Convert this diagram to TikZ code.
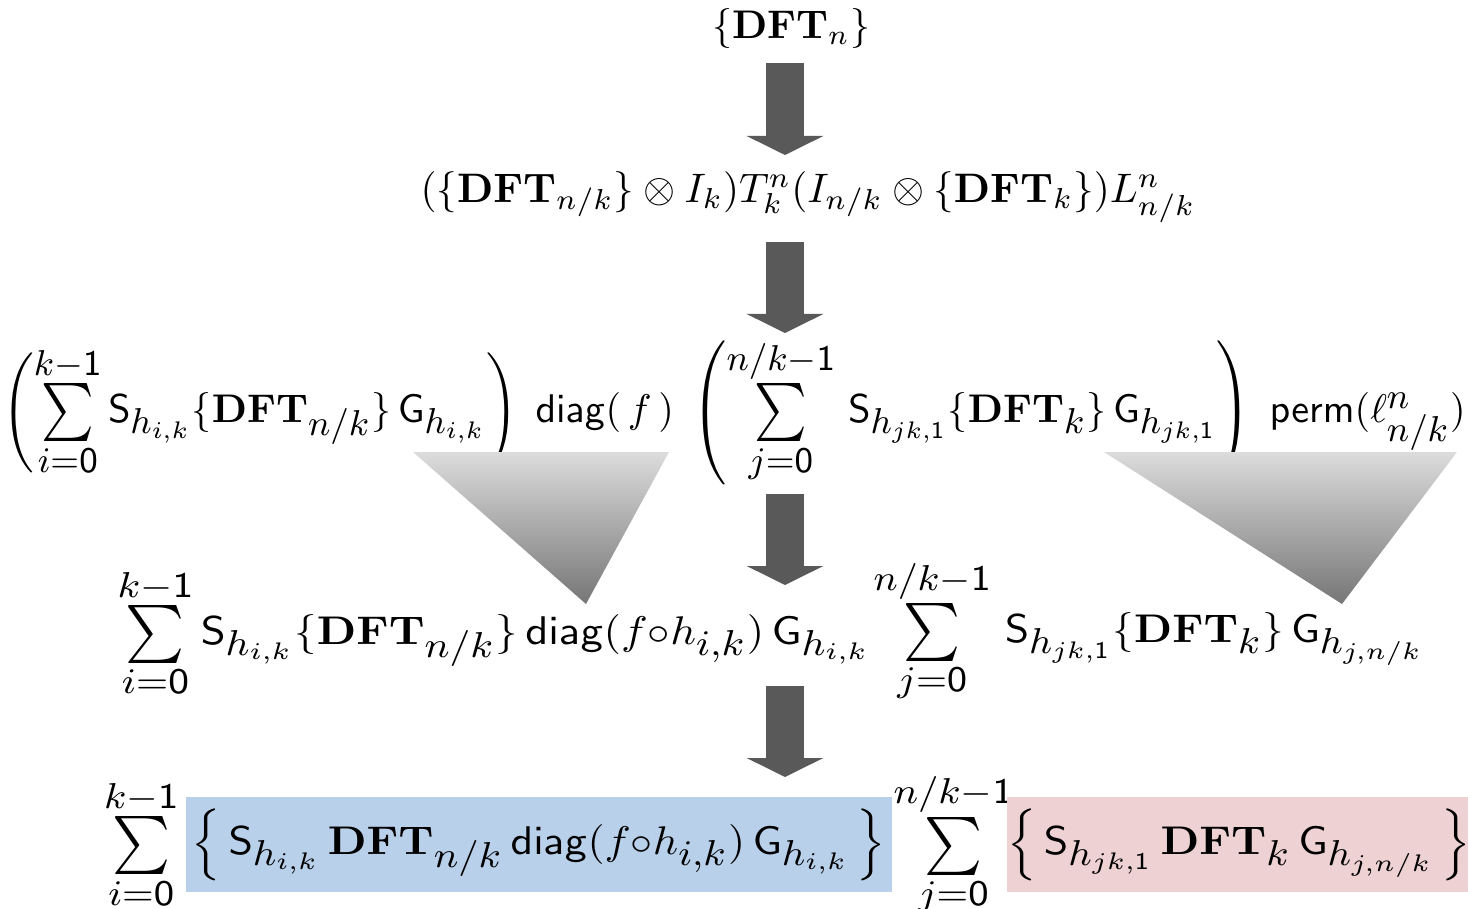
\documentclass[tikz,border=0pt]{standalone}
\usepackage{amsmath}
\usepackage{graphicx}
\usetikzlibrary{arrows.meta, positioning}
\definecolor{myBlue}{RGB}{185,208,234}
\definecolor{myPink}{RGB}{237,209,211}
\definecolor{myArrow}{RGB}{89,89,89}
\definecolor{wedgeTop}{RGB}{220,220,220}
\definecolor{wedgeBot}{RGB}{118,118,118}
\DeclareMathSizes{10.01}{10}{9}{6}
\newcommand{\bigfs}{\fontsize{10.01}{12}\selectfont}
\newcommand{\DFT}{\mathbf{DFT}}
\newcommand{\Sop}{\mathsf{S}}
\newcommand{\Gop}{\mathsf{G}}
\newcommand{\sz}{\mathsf{0}}
\newcommand{\so}{\mathsf{1}}
\newcommand{\bsum}{\mathop{\vcenter{\hbox{\scalebox{1.25}[1.45]{$\textstyle\sum$}}}}\limits}
\newcommand{\hwide}[2][1.1]{\scalebox{#1}[1]{#2}}

\begin{document}
\begin{tikzpicture}[
		x=0.25pt, y=-0.25pt,
		expr/.style={inner sep=0pt},
		sumexpr/.style={inner sep=0pt, font=\bigfs},
		hlbox/.style={inner sep=0pt, minimum height=23.75pt, font=\bigfs},
		bigarr/.style={myArrow, line width=9.5pt, -{Triangle[length=4.75pt, width=19pt]}},
		wedge/.style={top color=wedgeTop, bottom color=wedgeBot}
	]
	\useasboundingbox (0,0) rectangle (1468,909);
	\coordinate (ax) at (785,0);

	\node[expr] (dftn) at (791,29) {$\{\DFT_n\}$};
	\node[expr] (split) at (808,197) {\scalebox{1.03}{$(\{\DFT_{n/k}\}\otimes I_k)T^n_k(I_{n/k}\otimes\{\DFT_k\})L^n_{n/k}$}};
	\node[sumexpr] (sums) at (734,412) {$\left(\bsum_{i=\sz}^{k-\so} \Sop_{h_{i,k}}\{\DFT_{n/k}\}\,\Gop_{h_{i,k}}\right)\;\mathsf{diag}(\,f\,)\;\left(\bsum_{j=\sz}^{n/k-\so}\,\Sop_{h_{jk,\so}}\{\DFT_k\}\,\Gop_{h_{jk,\so}}\right)\;\mathsf{perm}(\ell^n_{n/k})$};
	\node[sumexpr] (twiddle) at (494,633) {\hwide[1.12]{$\bsum_{i=\sz}^{k-\so} \Sop_{h_{i,k}}\{\DFT_{n/k}\}\,\mathsf{diag}(f{\circ}h_{i,k})\,\Gop_{h_{i,k}}$}};
	\node[sumexpr] (perm) at (1149,631) {\hwide[1.08]{$\bsum_{j=\sz}^{n/k-\so}\,\Sop_{h_{jk,\so}}\{\DFT_k\}\,\Gop_{h_{j,n/k}}$}};

	% final form
	\node[hlbox, fill=myBlue, minimum width=176.5pt] (blue) at (539,844.5) {\hwide{$\Big\{\,\Sop_{h_{i,k}}\,\DFT_{n/k}\,\mathsf{diag}(f{\circ}h_{i,k})\,\Gop_{h_{i,k}}\,\Big\}$}};
	\node[sumexpr, left=1.5pt of blue] (sumi) {\hwide{$\bsum_{i=\sz}^{k-\so}$}};
	\node[sumexpr, right=0pt of blue] (sumj) {\hwide{$\bsum_{j=\sz}^{n/k-\so}$}};
	\node[hlbox, fill=myPink, minimum width=114pt] (pink) at (1239,844.5) {\hwide{$\Big\{\,\Sop_{h_{jk,\so}}\,\DFT_k\,\Gop_{h_{j,n/k}}\,\Big\}$}};

	\draw[bigarr, shorten <=8.5pt, shorten >=10.5pt] (dftn.center -| ax) -- (split.center -| ax);
	\draw[bigarr, shorten <=11.25pt, shorten >=19.75pt] (split.center -| ax) -- (sums.center -| ax);
	\draw[bigarr, shorten <=20.5pt, shorten >=12pt] (sums.center -| ax) -- (twiddle.center -| ax);
	\draw[bigarr, shorten <=13.25pt, shorten >=16.875pt] (twiddle.center -| ax) -- (blue.center -| ax);

	\shade[wedge] (413,452) -- (669,452) -- (586,604) -- cycle;
	\shade[wedge] (1104,452) -- (1457,452) -- (1342,604) -- cycle;
\end{tikzpicture}
\end{document}
